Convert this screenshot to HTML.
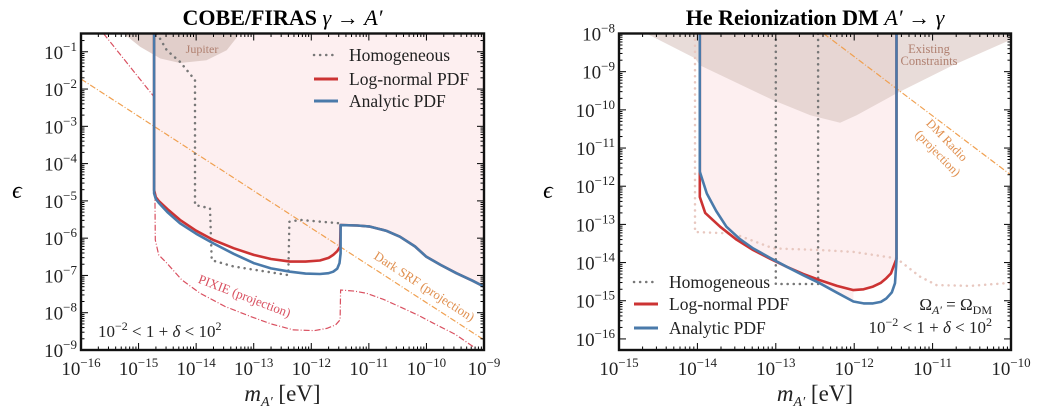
<!DOCTYPE html>
<html><head><meta charset="utf-8"><style>
html,body{margin:0;padding:0;background:#fff;}
svg{display:block;font-family:"Liberation Serif",serif;}
</style></head><body>
<svg id="s" width="1044" height="417" xmlns="http://www.w3.org/2000/svg"></svg>
<script>
// ---- Left panel data (log10 m, log10 eps) ----
const L_red_x=[-14.73,-14.73,-14.70,-14.65,-14.5,-14.28,-14.0,-13.7,-13.35,-13.0,-12.7,-12.37,-12.1,-11.85,-11.7,-11.62,-11.55,-11.50,-11.49,-11.2,-10.98,-10.7,-10.46,-10.2,-10.0,-9.75,-9.48,-9.2,-9.0];
const L_red_y=[-0.51,-4.71,-4.90,-5.0,-5.22,-5.51,-5.80,-6.05,-6.27,-6.45,-6.56,-6.63,-6.63,-6.60,-6.53,-6.45,-6.35,-6.23,-5.65,-5.66,-5.69,-5.80,-5.96,-6.22,-6.5,-6.72,-6.94,-7.14,-7.30];
const L_blue_x=[-14.73,-14.73,-14.70,-14.65,-14.5,-14.28,-14.0,-13.7,-13.35,-13.0,-12.7,-12.37,-12.1,-11.85,-11.7,-11.62,-11.55,-11.51,-11.49,-11.49,-11.2,-10.98,-10.7,-10.46,-10.2,-10.0,-9.75,-9.48,-9.2,-9.0];
const L_blue_y=[-0.51,-4.80,-4.95,-5.05,-5.30,-5.60,-5.88,-6.14,-6.42,-6.67,-6.81,-6.90,-6.95,-6.96,-6.94,-6.90,-6.82,-6.67,-6.41,-5.65,-5.66,-5.69,-5.80,-5.96,-6.22,-6.5,-6.72,-6.94,-7.14,-7.30];
const L_hom_x=[-14.68,-14.51,-14.28,-14.02,-14.02,-13.76,-13.73,-13.35,-12.40,-12.38,-12.20,-11.50];
const L_hom_y=[-0.51,-0.96,-1.27,-1.76,-5.11,-5.20,-6.59,-6.76,-6.99,-5.56,-5.51,-5.60];
const L_pixie_x=[-15.61,-14.73,-14.71,-14.65,-14.51,-14.25,-13.93,-13.5,-13.06,-12.7,-12.31,-11.95,-11.73,-11.58,-11.50,-11.49,-11.25,-11.04,-10.75,-10.46,-10.15,-9.88,-9.5,-9.19,-9.1];
const L_pixie_y=[-0.51,-2.21,-6.05,-6.45,-6.67,-7.12,-7.48,-7.83,-8.10,-8.30,-8.46,-8.48,-8.42,-8.33,-8.19,-7.39,-7.42,-7.48,-7.64,-7.84,-8.06,-8.28,-8.58,-8.91,-9.0];
const L_srf_x=[-16,-9];
const L_srf_y=[-1.73,-8.73];
const L_jup_x=[-15.26,-14.97,-14.62,-14.28,-13.82,-13.47,-13.24];
const L_jup_y=[-0.51,-0.87,-1.18,-1.30,-1.23,-0.96,-0.51];
// ---- Right panel data ----
const R_red_x=[-13.97,-13.97,-13.97,-13.9,-13.71,-13.5,-13.29,-13.07,-12.86,-12.65,-12.44,-12.22,-12.01,-11.88,-11.76,-11.66,-11.59,-11.53,-11.50,-11.46,-11.46];
const R_red_y=[-8,-11.66,-12.28,-12.70,-13.06,-13.40,-13.67,-13.90,-14.11,-14.30,-14.46,-14.61,-14.72,-14.70,-14.63,-14.53,-14.41,-14.28,-14.11,-13.9,-8];
const R_blue_x=[-13.97,-13.97,-13.88,-13.76,-13.63,-13.46,-13.29,-13.07,-12.86,-12.65,-12.44,-12.22,-12.01,-11.88,-11.76,-11.66,-11.59,-11.52,-11.48,-11.46,-11.46];
const R_blue_y=[-8,-11.62,-12.19,-12.65,-13.06,-13.38,-13.63,-13.88,-14.11,-14.33,-14.54,-14.79,-15.02,-15.07,-15.07,-15.03,-14.94,-14.78,-14.54,-13.93,-8];
const R_hom_x=[-13.0,-13.0,-12.46,-12.46];
const R_hom_y=[-8,-14.56,-14.56,-8];
const R_faint_x=[-14.03,-14.03,-13.54,-13.03,-12.44,-12.01,-11.46,-11.16,-10.95,-10.52,-10.0];
const R_faint_y=[-8,-13.2,-13.24,-13.63,-13.67,-13.72,-13.89,-14.37,-14.59,-14.61,-14.53];
const R_exist_x=[-14.65,-14.03,-13.97,-13.03,-12.56,-12.18,-11.97,-11.46,-10.74,-10.0,-10.0];
const R_exist_y=[-8,-8.65,-8.83,-9.75,-10.14,-10.34,-10.14,-9.57,-8.83,-8.16,-8];
const R_radio_x=[-12.39,-10.0];
const R_radio_y=[-8.0,-11.71];

const NS="http://www.w3.org/2000/svg";
const svg=document.getElementById('s');
function el(tag,attrs,parent){const e=document.createElementNS(NS,tag);for(const k in attrs)e.setAttribute(k,attrs[k]);(parent||svg).appendChild(e);return e;}

function panel(p){
  const g=el('g',{});
  
  
  const sx=v=>p.x0+(v-p.xmin)/(p.xmax-p.xmin)*(p.x1-p.x0);
  const sy=v=>p.y1-(v-p.ymin)/(p.ymax-p.ymin)*(p.y1-p.y0);
  const cp=el('clipPath',{id:p.name+'-clip'},g);
  el('rect',{x:p.x0,y:p.y0,width:p.x1-p.x0,height:p.y1-p.y0},cp);
  const pg=el('g',{'clip-path':'url(#'+p.name+'-clip)'},g);
  const pts=(xs,ys)=>xs.map((x,i)=>sx(x).toFixed(1)+','+sy(ys[i]).toFixed(1)).join(' ');
  p.draw(pg,sx,sy,pts);
  const tg=el('g',{stroke:'#000','stroke-width':1},g);
  for(let d=Math.ceil(p.xmin);d<=p.xmax;d++){
    const X=sx(d);
    el('line',{x1:X,x2:X,y1:p.y1,y2:p.y1-7},tg);el('line',{x1:X,x2:X,y1:p.y0,y2:p.y0+7},tg);
    for(let k=2;k<10;k++){const v=d+Math.log10(k);if(v>p.xmax)break;const Xm=sx(v);
      el('line',{x1:Xm,x2:Xm,y1:p.y1,y2:p.y1-3.5},tg);el('line',{x1:Xm,x2:Xm,y1:p.y0,y2:p.y0+3.5},tg);}
    const t=el('text',{x:X,y:p.y1+25,'text-anchor':'middle','font-size':19,fill:'#222'},g);
    
    
    t.innerHTML='10<tspan dy="-8" font-size="13">−'+(-d)+'</tspan>';
  }
  for(let d=Math.ceil(p.ymin);d<=p.ymax;d++){
    const Y=sy(d);
    el('line',{x1:p.x0,x2:p.x0+7,y1:Y,y2:Y},tg);el('line',{x1:p.x1,x2:p.x1-7,y1:Y,y2:Y},tg);
    for(let k=2;k<10;k++){const v=d+Math.log10(k);if(v>p.ymax)break;const Ym=sy(v);
      el('line',{x1:p.x0,x2:p.x0+3.5,y1:Ym,y2:Ym},tg);el('line',{x1:p.x1,x2:p.x1-3.5,y1:Ym,y2:Ym},tg);}
    const t=el('text',{x:p.x0-4,y:Y+7,'text-anchor':'end','font-size':19,fill:'#222'},g);
    
    
    t.innerHTML='10<tspan dy="-8" font-size="13">−'+(-d)+'</tspan>';
  }
  el('rect',{x:p.x0,y:p.y0,width:p.x1-p.x0,height:p.y1-p.y0,fill:'none',stroke:'#111','stroke-width':2.4},g);
  const tt=el('text',{x:(p.x0+p.x1)/2,y:25,'text-anchor':'middle','font-size':22,'font-weight':'bold'},g);
  
  
  tt.innerHTML=p.title;
  const xt=el('text',{x:(p.x0+p.x1)/2,y:401,'text-anchor':'middle','font-size':23,fill:'#222'},g);
  
  
  xt.innerHTML='<tspan font-style="italic">m</tspan><tspan font-style="italic" font-size="14" dy="5">A′</tspan><tspan dy="-5"> [eV]</tspan>';
  const yt=el('text',{x:p.yx,y:198,'text-anchor':'middle','font-size':24,'font-style':'italic'},g);
  
  
  yt.textContent='ϵ';
  p.legend(g);
}
function line(g,xs,ys,pts,st,name){const e=el('polyline',Object.assign({points:pts(xs,ys),fill:'none','stroke-linejoin':'round'},st),g);
  
  return e;}
function legend(g,x,ys){
  const items=[['Homogeneous','#777','2 5',2.5],['Log-normal PDF','#cc3333','',3],['Analytic PDF','#4a7aaa','',3]];
  items.forEach((it,i)=>{
    const a={x1:x,x2:x+24,y1:ys[i],y2:ys[i],stroke:it[1],'stroke-width':it[3],'stroke-linecap':it[2]?'round':'butt'};
    if(it[2])a['stroke-dasharray']='0.1 6';
    el('line',a,g);
    const t=el('text',{x:x+35,y:ys[i]+6,'font-size':17.5,fill:'#222'},g);
    
    
    t.textContent=it[0];
  });
}
const dot={stroke:'#777','stroke-width':2.5,'stroke-dasharray':'0.1 6','stroke-linecap':'round'};
panel({name:'cobe-panel',x0:81,x1:484,y0:33.5,y1:350,xmin:-16,xmax:-9,ymin:-9,ymax:-0.51,yx:17,
  title:'COBE/FIRAS <tspan font-style="italic" font-weight="normal">γ</tspan> → <tspan font-style="italic" font-weight="normal">A′</tspan>',
  draw:(g,sx,sy,pts)=>{
    const fill=el('polygon',{points:pts(L_red_x,L_red_y)+' '+sx(-9)+','+sy(-0.51),fill:'#fdeff0'},g);
    
    
    const j=el('polygon',{points:pts(L_jup_x,L_jup_y),fill:'#dcc8c3',opacity:0.85},g);
    
    
    line(g,L_srf_x,L_srf_y,pts,{stroke:'#f0a050','stroke-width':1.2,'stroke-dasharray':'6 2 1 2'},'dark-srf-line');
    line(g,L_pixie_x,L_pixie_y,pts,{stroke:'#d95060','stroke-width':1.2,'stroke-dasharray':'6 2 1 2'},'pixie-line');
    line(g,L_hom_x,L_hom_y,pts,dot,'homogeneous-line');
    line(g,L_red_x,L_red_y,pts,{stroke:'#cc3333','stroke-width':2.6},'lognormal-line');
    line(g,L_blue_x,L_blue_y,pts,{stroke:'#4a7aaa','stroke-width':2.6},'analytic-line');
    let t=el('text',{x:202,y:53,'text-anchor':'middle','font-size':12,fill:'#b08070'},g);t.textContent='Jupiter';
    t=el('text',{x:0,y:0,'text-anchor':'middle','font-size':13,fill:'#d95060',transform:'translate(243,300) rotate(21)'},g);t.textContent='PIXIE (projection)';
    t=el('text',{x:0,y:0,'text-anchor':'middle','font-size':13,fill:'#e09050',transform:'translate(422,290) rotate(33)'},g);t.textContent='Dark SRF (projection)';
    t=el('text',{x:98,y:337,'font-size':17,fill:'#222'},g);t.innerHTML='10<tspan dy="-7" font-size="12">−2</tspan><tspan dy="7"> &lt; 1 + </tspan><tspan font-style="italic">δ</tspan> &lt; 10<tspan dy="-7" font-size="12">2</tspan>';
    
    
  },
  legend:g=>legend(g,314,[55,79,101])
});
panel({name:'he-panel',x0:619,x1:1011,y0:33.5,y1:350,xmin:-15,xmax:-10,ymin:-16.29,ymax:-8,yx:548,
  title:'He Reionization DM <tspan font-style="italic" font-weight="normal">A′</tspan> → <tspan font-style="italic" font-weight="normal">γ</tspan>',
  draw:(g,sx,sy,pts)=>{
    const fill=el('polygon',{points:pts(R_blue_x.slice(0,13),R_blue_y.slice(0,13))+' '+pts(R_red_x.slice(12),R_red_y.slice(12)),fill:'#fdeff0'},g);
    
    
    const ex=el('polygon',{points:pts(R_exist_x,R_exist_y)+' '+sx(-14.65)+','+sy(-8),fill:'#d8c4bf',opacity:0.6},g);
    
    
    line(g,R_faint_x,R_faint_y,pts,{stroke:'#e8c8c0','stroke-width':2.5,'stroke-dasharray':'0.1 6','stroke-linecap':'round'},'faint-homogeneous-line');
    line(g,R_radio_x,R_radio_y,pts,{stroke:'#f0a050','stroke-width':1.2,'stroke-dasharray':'6 2 1 2'},'dm-radio-line');
    line(g,R_hom_x,R_hom_y,pts,dot,'homogeneous-line');
    line(g,R_red_x,R_red_y,pts,{stroke:'#cc3333','stroke-width':2.6},'lognormal-line');
    line(g,R_blue_x,R_blue_y,pts,{stroke:'#4a7aaa','stroke-width':2.6},'analytic-line');
    let t=el('text',{x:929,y:53,'text-anchor':'middle','font-size':12.5,fill:'#b08070'},g);t.textContent='Existing';
    t=el('text',{x:929,y:65,'text-anchor':'middle','font-size':12.5,fill:'#b08070'},g);t.textContent='Constraints';
    t=el('text',{x:0,y:0,'text-anchor':'middle','font-size':12.5,fill:'#e09050',transform:'translate(944,143) rotate(46)'},g);t.textContent='DM Radio';
    t=el('text',{x:0,y:0,'text-anchor':'middle','font-size':12.5,fill:'#e09050',transform:'translate(935,156) rotate(46)'},g);t.textContent='(projection)';
    t=el('text',{x:992,y:310,'text-anchor':'end','font-size':17,fill:'#222'},g);t.innerHTML='Ω<tspan font-size="12" dy="4" font-style="italic">A′</tspan><tspan dy="-4"> = Ω</tspan><tspan font-size="12" dy="4">DM</tspan>';
    
    
    t=el('text',{x:992,y:333,'text-anchor':'end','font-size':17,fill:'#222'},g);t.innerHTML='10<tspan dy="-7" font-size="12">−2</tspan><tspan dy="7"> &lt; 1 + </tspan><tspan font-style="italic">δ</tspan> &lt; 10<tspan dy="-7" font-size="12">2</tspan>';
    
    
  },
  legend:g=>legend(g,634,[282,304,328])
});
</script>
</body></html>
